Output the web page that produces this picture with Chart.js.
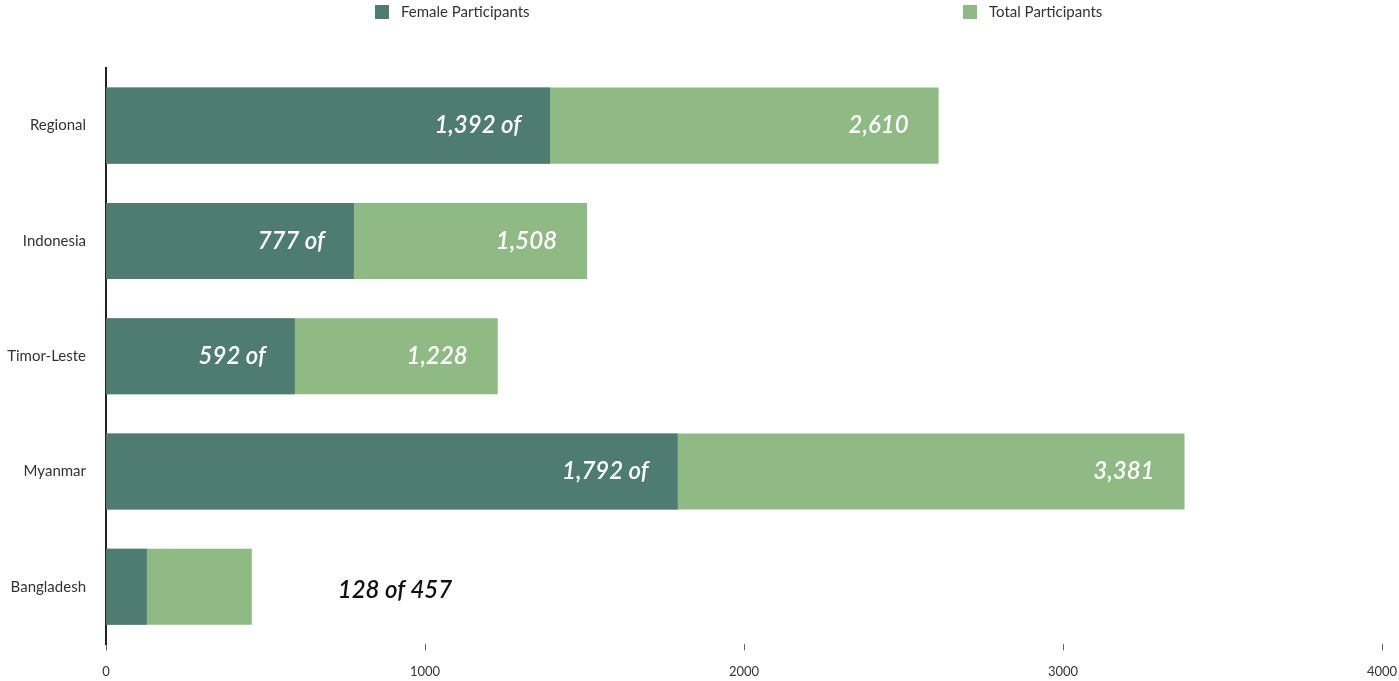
<!DOCTYPE html>
<html>
<head>
<meta charset="utf-8">
<script src="https://cdn.jsdelivr.net/npm/chart.js"></script>
<style>
  html, body { margin: 0; padding: 0; background: #fff; }
  #wrap { width: 1399px; height: 681px; position: relative; }
</style>
</head>
<body>
<div id="wrap"><canvas id="participants"></canvas></div>
<script>
var countries = ['Regional', 'Indonesia', 'Timor-Leste', 'Myanmar', 'Bangladesh'];
var female = [1392, 777, 592, 1792, 128];
var total = [2610, 1508, 1228, 3381, 457];
var xTicks = [0, 1000, 2000, 3000, 4000];

var darkTeal = '#4e7c73';
var lightGreen = '#8fba83';

function fmt(n) {
    return n.toLocaleString('en-US');
}

// draws the "x of y" numbers on the bars
var barText = {
    id: 'barText',
    afterDatasetsDraw: function (chart) {
        var c = chart.ctx;
        var xs = chart.scales.x;
        var ys = chart.scales.y;
        c.save();
        c.textBaseline = 'middle';
        c.font = 'italic 600 24px Lato';
        for (var i = 0; i < countries.length; i++) {
            var y = ys.getPixelForValue(i);
            var xf = xs.getPixelForValue(female[i]);
            var xt = xs.getPixelForValue(total[i]);
            if (xt - xs.getPixelForValue(0) < 250) {
                // small bar: label outside, dark
                c.fillStyle = '#111';
                c.textAlign = 'left';
                c.fillText(fmt(female[i]) + ' of ' + fmt(total[i]), xt + 86, y + 4);
            } else {
                c.fillStyle = '#fff';
                c.textAlign = 'right';
                c.fillText(fmt(female[i]) + ' of', xf - 29, y);
                c.fillText(fmt(total[i]), xt - 30, y);
            }
        }
        c.restore();
    }
};

// legend spread out over the top like the original
var topLegend = {
    id: 'topLegend',
    afterDraw: function (chart) {
        var c = chart.ctx;
        var items = [
            { text: 'Female Participants', color: darkTeal, x: 375 },
            { text: 'Total Participants', color: lightGreen, x: 963 }
        ];
        c.save();
        c.font = '15px Lato';
        c.textBaseline = 'middle';
        c.textAlign = 'left';
        items.forEach(function (it) {
            c.fillStyle = it.color;
            c.fillRect(it.x, 5, 14, 14);
            c.fillStyle = '#333';
            c.fillText(it.text, it.x + 26, 12);
        });
        c.restore();
    }
};

var ctx = document.getElementById('participants').getContext('2d');
var chart = new Chart(ctx, {
    type: 'bar',
    data: {
        labels: countries,
        datasets: [{
            label: 'Female Participants',
            data: female,
            backgroundColor: darkTeal,
            barPercentage: 0.66,
            categoryPercentage: 1
        }, {
            label: 'Total Participants',
            data: total,
            backgroundColor: lightGreen,
            barPercentage: 0.66,
            categoryPercentage: 1
        }]
    },
    options: {
        indexAxis: 'y',
        responsive: true,
        maintainAspectRatio: false,
        animation: false,
        layout: {
            padding: { top: 68, right: 17, left: 0, bottom: -13 }
        },
        plugins: {
            legend: { display: false },
            tooltip: { enabled: false }
        },
        scales: {
            x: {
                min: 0,
                max: 4000,
                afterBuildTicks: function (axis) {
                    axis.ticks = xTicks.map(function (v) { return { value: v }; });
                },
                afterFit: function (axis) {
                    axis.paddingLeft = 0;
                    axis.paddingRight = 0;
                },
                border: { display: false },
                grid: {
                    drawOnChartArea: false,
                    drawTicks: true,
                    tickLength: 6,
                    color: '#666'
                },
                ticks: {
                    color: '#333',
                    font: { family: 'Lato', size: 13 },
                    padding: 14,
                    maxRotation: 0,
                    callback: function (v) { return String(v); }
                }
            },
            y: {
                stacked: true,
                afterFit: function (axis) { axis.width = 106; },
                border: { display: true, color: '#222', width: 2 },
                grid: { display: false, drawTicks: false },
                ticks: {
                    color: '#333',
                    font: { family: 'Lato', size: 15 },
                    padding: 20
                }
            }
        }
    },
    plugins: [barText, topLegend]
});
</script>
</body>
</html>
